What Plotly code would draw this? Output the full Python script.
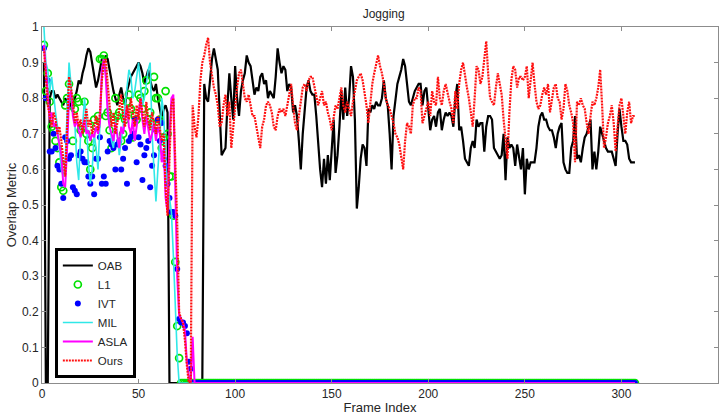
import plotly.graph_objects as go

N_FRAMES = 307
frames = list(range(1, N_FRAMES + 1))

# OAB (black), frames 1..307
oab = [0.90, 0.0, 0.0, 0.80, 0.82, 0.82, 0.80, 0.81, 0.80, 0.79,
       0.78, 0.80, 0.79, 0.77, 0.79, 0.78, 0.80, 0.82, 0.85, 0.84,
       0.87, 0.89, 0.92, 0.94, 0.93, 0.90, 0.86, 0.83, 0.85, 0.88,
       0.91, 0.90, 0.92, 0.91, 0.88, 0.84, 0.82, 0.80, 0.78, 0.81,
       0.83, 0.80, 0.78, 0.82, 0.84, 0.86, 0.87, 0.88, 0.89, 0.90,
       0.89, 0.87, 0.84, 0.86, 0.88, 0.85, 0.83, 0.82, 0.84, 0.80,
       0.77, 0.74, 0.77, 0.78, 0.76, 0.0, 0.0, 0.0, 0.0, 0.0,
       0.0, 0.0, 0.0, 0.0, 0.0, 0.0, 0.0, 0.0, 0.0, 0.0,
       0.0, 0.0, 0.0, 0.84, 0.80, 0.79, 0.85, 0.91, 0.94, 0.91,
       0.88, 0.76, 0.64, 0.65, 0.66, 0.78, 0.87, 0.80, 0.74, 0.89,
       0.80, 0.75, 0.82, 0.85, 0.87, 0.92, 0.90, 0.89, 0.85, 0.81,
       0.83, 0.82, 0.86, 0.87, 0.84, 0.85, 0.80, 0.82, 0.81, 0.80,
       0.86, 0.94, 0.90, 0.87, 0.89, 0.88, 0.82, 0.84, 0.83, 0.76,
       0.78, 0.75, 0.68, 0.60, 0.70, 0.78, 0.83, 0.85, 0.82, 0.81,
       0.81, 0.75, 0.66, 0.60, 0.55, 0.63, 0.56, 0.64, 0.57, 0.66,
       0.74, 0.59, 0.64, 0.72, 0.82, 0.74, 0.83, 0.75, 0.80, 0.89,
       0.86, 0.74, 0.49, 0.55, 0.63, 0.67, 0.66, 0.61, 0.77, 0.76,
       0.78, 0.77, 0.79, 0.78, 0.78, 0.80, 0.85, 0.80, 0.78, 0.70,
       0.60, 0.75, 0.80, 0.84, 0.86, 0.88, 0.91, 0.89, 0.84, 0.79,
       0.78, 0.80, 0.82, 0.83, 0.84, 0.84, 0.78, 0.82, 0.83, 0.77,
       0.71, 0.74, 0.75, 0.72, 0.76, 0.77, 0.71, 0.74, 0.76, 0.75,
       0.76, 0.75, 0.72, 0.80, 0.84, 0.71, 0.72, 0.68, 0.63, 0.62,
       0.61, 0.66, 0.68, 0.66, 0.74, 0.72, 0.73, 0.73, 0.65, 0.72,
       0.75, 0.75, 0.74, 0.66, 0.65, 0.64, 0.63, 0.64, 0.70, 0.57,
       0.69, 0.66, 0.67, 0.66, 0.61, 0.67, 0.64, 0.60, 0.66, 0.53,
       0.63, 0.60, 0.62, 0.62, 0.62, 0.66, 0.72, 0.75, 0.76, 0.74,
       0.74, 0.72, 0.71, 0.71, 0.69, 0.66, 0.70, 0.72, 0.73, 0.62,
       0.60, 0.59, 0.59, 0.66, 0.68, 0.75, 0.63, 0.64, 0.62, 0.66,
       0.69, 0.70, 0.72, 0.74, 0.60, 0.65, 0.60, 0.65, 0.72, 0.70,
       0.68, 0.66, 0.65, 0.65, 0.65, 0.63, 0.61, 0.70, 0.77, 0.72,
       0.68, 0.68, 0.67, 0.63, 0.62, 0.62, 0.62]

# Ours (red dotted), frames 1..307
ours = [0.94, 0.86, 0.78, 0.75, 0.72, 0.76, 0.74, 0.70, 0.72, 0.68,
        0.62, 0.58, 0.72, 0.86, 0.83, 0.79, 0.73, 0.76, 0.72, 0.74,
        0.70, 0.73, 0.77, 0.72, 0.74, 0.70, 0.72, 0.75, 0.71, 0.76,
        0.85, 0.90, 0.91, 0.84, 0.78, 0.72, 0.76, 0.70, 0.73, 0.77,
        0.81, 0.75, 0.72, 0.78, 0.74, 0.80, 0.76, 0.72, 0.78, 0.74,
        0.80, 0.76, 0.72, 0.79, 0.74, 0.71, 0.76, 0.73, 0.70, 0.75,
        0.72, 0.68, 0.70, 0.55, 0.47, 0.62, 0.78, 0.80, 0.62, 0.45,
        0.20, 0.18, 0.17, 0.12, 0.05, 0.0, 0.0, 0.78, 0.72, 0.69,
        0.75, 0.85, 0.90, 0.92, 0.95, 0.97, 0.90, 0.86, 0.83, 0.81,
        0.78, 0.72, 0.73, 0.78, 0.81, 0.75, 0.79, 0.66, 0.72, 0.79,
        0.83, 0.87, 0.88, 0.84, 0.80, 0.79, 0.81, 0.78, 0.75, 0.75,
        0.72, 0.68, 0.66, 0.72, 0.74, 0.78, 0.79, 0.78, 0.76, 0.72,
        0.71, 0.75, 0.77, 0.76, 0.77, 0.75, 0.78, 0.82, 0.84, 0.78,
        0.73, 0.71, 0.75, 0.80, 0.83, 0.84, 0.82, 0.85, 0.86, 0.86,
        0.83, 0.80, 0.78, 0.80, 0.82, 0.78, 0.79, 0.76, 0.74, 0.71,
        0.75, 0.78, 0.77, 0.80, 0.83, 0.78, 0.76, 0.79, 0.77, 0.75,
        0.79, 0.82, 0.85, 0.86, 0.87, 0.85, 0.82, 0.78, 0.73, 0.79,
        0.84, 0.87, 0.90, 0.92, 0.89, 0.87, 0.84, 0.80, 0.78, 0.77,
        0.75, 0.73, 0.70, 0.69, 0.67, 0.64, 0.60, 0.68, 0.73, 0.72,
        0.70, 0.78, 0.80, 0.80, 0.83, 0.82, 0.73, 0.75, 0.77, 0.79,
        0.75, 0.82, 0.79, 0.78, 0.86, 0.80, 0.78, 0.82, 0.84, 0.81,
        0.79, 0.77, 0.73, 0.82, 0.77, 0.84, 0.88, 0.90, 0.86, 0.83,
        0.80, 0.76, 0.72, 0.80, 0.89, 0.88, 0.84, 0.86, 0.92, 0.96,
        0.87, 0.80, 0.79, 0.78, 0.83, 0.87, 0.84, 0.81, 0.74, 0.69,
        0.63, 0.76, 0.85, 0.89, 0.88, 0.83, 0.86, 0.86, 0.85, 0.86,
        0.89, 0.80, 0.85, 0.90, 0.84, 0.79, 0.77, 0.78, 0.81, 0.83,
        0.81, 0.84, 0.76, 0.79, 0.83, 0.84, 0.80, 0.79, 0.74, 0.77,
        0.84, 0.82, 0.78, 0.76, 0.73, 0.62, 0.79, 0.78, 0.80, 0.78,
        0.77, 0.73, 0.70, 0.75, 0.79, 0.78, 0.80, 0.83, 0.88, 0.78,
        0.66, 0.69, 0.73, 0.75, 0.78, 0.73, 0.65, 0.72, 0.78, 0.80,
        0.75, 0.70, 0.76, 0.79, 0.73, 0.75, 0.75]

# L1 (green circles), tracked frames; zero afterwards
l1_head = [0.95, 0.82, 0.87, 0.79, 0.72, 0.71, 0.68, 0.66, 0.62, 0.55,
           0.54, 0.78, 0.80, 0.84, 0.78, 0.68, 0.77, 0.80, 0.79, 0.71,
           0.72, 0.79, 0.70, 0.68, 0.60, 0.66, 0.74, 0.72, 0.75, 0.91,
           0.91, 0.92, 0.75, 0.76, 0.71, 0.66, 0.74, 0.80, 0.75, 0.76,
           0.68, 0.70, 0.74, 0.79, 0.81, 0.77, 0.69, 0.75, 0.74, 0.81,
           0.80, 0.77, 0.82, 0.85, 0.74, 0.76, 0.73, 0.86, 0.80, 0.80,
           0.74, 0.66, 0.69, 0.82, 0.70, 0.58, 0.58, 0.47, 0.34, 0.16,
           0.07]

# IVT (blue dots)
ivt_head = [0.94, 0.80, 0.85, 0.65, 0.65, 0.70, 0.66, 0.61, 0.60, 0.56,
            0.52, 0.69, 0.68, 0.63, 0.64, 0.55, 0.54, 0.53, 0.64, 0.65,
            0.63, 0.62, 0.62, 0.58, 0.56, 0.58, 0.53, 0.63, 0.63, 0.69,
            0.56, 0.58, 0.56, 0.65, 0.68, 0.67, 0.66, 0.60, 0.67, 0.68,
            0.60, 0.63, 0.66, 0.56, 0.68, 0.69, 0.70, 0.74, 0.62, 0.69,
            0.67, 0.57, 0.64, 0.66, 0.68, 0.55, 0.61, 0.64, 0.71, 0.74,
            0.68, 0.73, 0.63, 0.61, 0.56, 0.52, 0.48, 0.48, 0.47, 0.32,
            0.18, 0.17, 0.17, 0.16, 0.14, 0.06, 0.04]

# MIL (cyan)
mil_head = [1.00, 0.90, 0.88, 0.82, 0.86, 0.80, 0.76, 0.72, 0.66, 0.60,
            0.58, 0.62, 0.76, 0.90, 0.84, 0.76, 0.73, 0.62, 0.57, 0.70,
            0.72, 0.80, 0.74, 0.62, 0.56, 0.60, 0.70, 0.66, 0.60, 0.75,
            0.86, 0.90, 0.88, 0.78, 0.72, 0.68, 0.66, 0.74, 0.70, 0.64,
            0.68, 0.72, 0.78, 0.84, 0.88, 0.86, 0.80, 0.82, 0.86, 0.90,
            0.84, 0.78, 0.80, 0.84, 0.88, 0.90, 0.70, 0.60, 0.51, 0.60,
            0.68, 0.80, 0.76, 0.62, 0.55, 0.52, 0.48, 0.36, 0.20, 0.08]

# ASLA (magenta)
asla_head = [0.95, 0.88, 0.80, 0.74, 0.76, 0.72, 0.73, 0.70, 0.68, 0.64,
             0.56, 0.55, 0.66, 0.80, 0.82, 0.75, 0.72, 0.74, 0.71, 0.69,
             0.72, 0.74, 0.70, 0.71, 0.68, 0.70, 0.69, 0.72, 0.70, 0.73,
             0.88, 0.91, 0.86, 0.76, 0.72, 0.70, 0.68, 0.73, 0.70, 0.66,
             0.72, 0.70, 0.74, 0.78, 0.72, 0.70, 0.74, 0.68, 0.72, 0.76,
             0.80, 0.74, 0.70, 0.75, 0.72, 0.68, 0.70, 0.73, 0.68, 0.72,
             0.70, 0.62, 0.66, 0.52, 0.48, 0.70, 0.80, 0.81, 0.55, 0.30,
             0.19, 0.18, 0.17, 0.15, 0.06, 0.02, 0.0, 0.13]


def pad(head):
    return head + [0.0] * (N_FRAMES - len(head))


l1 = pad(l1_head)
ivt = pad(ivt_head)
mil = pad(mil_head)
asla = pad(asla_head)

x_ticks = [0, 50, 100, 150, 200, 250, 300, 350]
y_ticks = [0, 0.1, 0.2, 0.3, 0.4, 0.5, 0.6, 0.7, 0.8, 0.9, 1]

FONT = "Liberation Sans, Arial, sans-serif"

fig = go.Figure()
fig.add_trace(go.Scatter(x=frames, y=oab, mode="lines", name="OAB",
                         line=dict(color="black", width=2.2)))
fig.add_trace(go.Scatter(x=frames, y=l1, mode="markers", name="L1",
                         marker=dict(symbol="circle-open", size=7,
                                     color="#00e000", line=dict(width=1.7, color="#00e000"))))
fig.add_trace(go.Scatter(x=frames, y=ivt, mode="markers", name="IVT",
                         marker=dict(symbol="circle", size=6, color="#0000ff")))
fig.add_trace(go.Scatter(x=frames, y=mil, mode="lines", name="MIL",
                         line=dict(color="#30e8e8", width=1.6)))
fig.add_trace(go.Scatter(x=frames, y=asla, mode="lines", name="ASLA",
                         line=dict(color="#ff00ff", width=2)))
fig.add_trace(go.Scatter(x=frames, y=ours, mode="lines", name="Ours",
                         line=dict(color="#ff1010", width=2.2, dash="2px,1px")))

axis_font = dict(family=FONT, size=12, color="#262626")
title_font = dict(family=FONT, size=13, color="#262626")

fig.update_layout(
    width=728, height=417,
    margin=dict(l=42, r=10, t=27, b=34),
    paper_bgcolor="white", plot_bgcolor="white",
    font=axis_font,
    title=dict(text="Jogging", x=0.527, xanchor="center", y=0.968, yanchor="middle",
               font=dict(family=FONT, size=12, color="#262626")),
    showlegend=True,
    legend=dict(x=0.019, y=0.014, xanchor="left", yanchor="bottom",
                bgcolor="white", bordercolor="black", borderwidth=3,
                font=dict(family=FONT, size=11.5, color="#262626"),
                itemwidth=30, tracegroupgap=0),
    xaxis=dict(range=[0, 350], tickvals=x_ticks, ticks="inside", ticklen=4,
               tickcolor="#8c8c8c", showline=True, linecolor="#8c8c8c", linewidth=1,
               mirror="ticks", showgrid=False, zeroline=False, automargin=False,
               title=dict(text="Frame Index", standoff=2, font=title_font),
               tickfont=axis_font),
    yaxis=dict(range=[0, 1], tickvals=y_ticks, ticks="inside", ticklen=4,
               tickcolor="#8c8c8c", showline=True, linecolor="#8c8c8c", linewidth=1,
               mirror="ticks", showgrid=False, zeroline=False, automargin=False,
               title=dict(text="Overlap Metric", standoff=2, font=title_font),
               tickfont=axis_font),
)

fig.write_html("out.html",
               config={"displayModeBar": False},
               post_script="document.body.style.margin='0px';document.body.style.padding='0px';")
